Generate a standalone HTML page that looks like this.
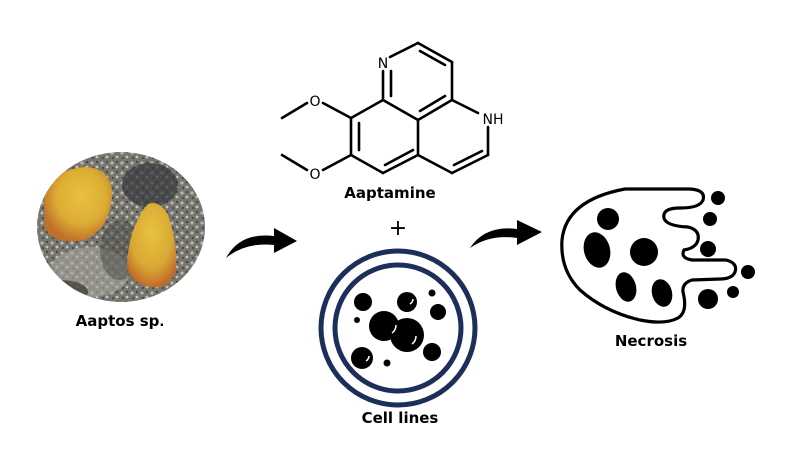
<!DOCTYPE html>
<html><head><meta charset="utf-8"><style>
html,body{margin:0;padding:0;background:#fff;width:792px;height:473px;overflow:hidden}
svg{display:block}
text{font-family:"DejaVu Sans","Liberation Sans",sans-serif;font-weight:bold;fill:#000}
text.n{font-weight:normal}
</style></head><body>
<svg width="792" height="473" viewBox="0 0 792 473" xmlns="http://www.w3.org/2000/svg">
<defs>
<clipPath id="cp"><ellipse cx="121" cy="227" rx="84" ry="75"/></clipPath>
<radialGradient id="sp1" cx="0.55" cy="0.4" r="0.6"><stop offset="0" stop-color="#e8c040"/><stop offset="0.6" stop-color="#dcae34"/><stop offset="1" stop-color="#c0702a"/></radialGradient>
<radialGradient id="sp2" cx="0.5" cy="0.35" r="0.65"><stop offset="0" stop-color="#e8c23e"/><stop offset="0.65" stop-color="#d8a834"/><stop offset="1" stop-color="#c26a2a"/></radialGradient>
<pattern id="spk" width="10" height="10" patternUnits="userSpaceOnUse">
<rect width="10" height="10" fill="#77766e"/>
<circle cx="2" cy="3" r="1.6" fill="#b8b8b0"/><circle cx="7" cy="7" r="1.4" fill="#c4c4bc"/><circle cx="7" cy="2" r="1" fill="#3a3a38"/><circle cx="3" cy="8" r="1" fill="#44403c"/>
</pattern>
</defs>
<g clip-path="url(#cp)">
<rect x="30" y="150" width="180" height="160" fill="url(#spk)"/>
<ellipse cx="90" cy="272" rx="40" ry="25" fill="#a8a79e" opacity="0.6"/>
<ellipse cx="150" cy="185" rx="28" ry="22" fill="#35363a" opacity="0.7"/>
<ellipse cx="60" cy="292" rx="28" ry="12" fill="#3a3634" opacity="0.7"/>
<ellipse cx="120" cy="250" rx="20" ry="30" fill="#4a4844" opacity="0.5"/>
<path d="M44,195 Q50,170 85,167 Q112,168 112,195 Q110,228 85,240 Q55,246 45,228 Z" fill="url(#sp1)"/>
<path d="M148,204 Q160,200 168,215 Q178,245 176,270 Q170,290 150,287 Q128,283 127,262 Q130,225 148,204 Z" fill="url(#sp2)"/>
</g>
<text x="120" y="326" font-size="15" text-anchor="middle">Aaptos sp<tspan class="n" font-size="13">.</tspan></text>
<path d="M226,258 Q240,232 274,236 L274,228 L297,241 L274,253 L274,245 Q245,242 226,258 Z" fill="#000"/>
<path d="M470,248 Q485,225 517,229 L517,220 L542,232 L517,245 L517,238 Q490,234 470,248 Z" fill="#000"/>
<g stroke="#000" stroke-width="2.6" fill="none" stroke-linecap="round">
<line x1="390" y1="57" x2="418" y2="43"/>
<line x1="418" y1="43" x2="452" y2="62"/><line x1="420" y1="51" x2="445" y2="65"/>
<line x1="452" y1="62" x2="452" y2="100"/>
<line x1="452" y1="100" x2="418" y2="120"/><line x1="445" y1="96" x2="420" y2="111"/>
<line x1="418" y1="120" x2="383" y2="100"/>
<line x1="383" y1="100" x2="383" y2="71"/><line x1="391" y1="96" x2="391" y2="71"/>
<line x1="418" y1="120" x2="418" y2="155"/>
<line x1="383" y1="100" x2="351" y2="118"/>
<line x1="351" y1="118" x2="351" y2="155"/><line x1="359" y1="123" x2="359" y2="150"/>
<line x1="351" y1="155" x2="383" y2="173"/>
<line x1="383" y1="173" x2="418" y2="155"/><line x1="385" y1="165" x2="413" y2="150"/>
<line x1="418" y1="155" x2="452" y2="173"/>
<line x1="452" y1="173" x2="488" y2="155"/><line x1="454" y1="165" x2="482" y2="151"/>
<line x1="488" y1="155" x2="488" y2="127"/>
<line x1="452" y1="100" x2="478" y2="113"/>
<line x1="351" y1="118" x2="323" y2="103"/>
<line x1="307" y1="103" x2="282" y2="118"/>
<line x1="351" y1="155" x2="323" y2="170"/>
<line x1="307" y1="170" x2="282" y2="155"/>
</g>
<g font-size="14">
<text class="n" x="383" y="68" text-anchor="middle">N</text>
<text class="n" x="493" y="124" text-anchor="middle">NH</text>
<text class="n" x="315" y="106" text-anchor="middle">O</text>
<text class="n" x="315" y="179" text-anchor="middle">O</text>
</g>
<text x="390" y="198" font-size="15" text-anchor="middle">Aaptamine</text>
<text class="n" x="398" y="235" font-size="22" text-anchor="middle">+</text>
<circle cx="398" cy="328" r="77" fill="none" stroke="#1c2e5a" stroke-width="5"/>
<circle cx="398" cy="328" r="63" fill="none" stroke="#1c2e5a" stroke-width="5"/>
<g fill="#000">
<circle cx="363" cy="302" r="9"/><circle cx="407" cy="302" r="10"/><circle cx="438" cy="312" r="8"/>
<circle cx="432" cy="293" r="3.5"/><circle cx="357" cy="320" r="3"/>
<circle cx="407" cy="335" r="17"/><circle cx="384" cy="326" r="15"/>
<circle cx="362" cy="358" r="11"/><circle cx="387" cy="363" r="3.5"/><circle cx="432" cy="352" r="9"/>
</g>
<g fill="none" stroke="#fff" stroke-width="1.5">
<path d="M392,333 Q396,330 396,325"/><path d="M412,344 Q416,341 416,336"/><path d="M410,304 Q413,302 413,299"/><path d="M366,361 Q369,359 369,356"/>
</g>
<text x="400" y="423" font-size="15" text-anchor="middle">Cell lines</text>
<path d="M625,189 L690,189 Q706,190 703,200 Q700,208 680,208 Q662,208 664,218 Q666,226 688,227 Q700,230 698,240 Q696,248 684,250 Q680,258 692,260 L726,260 Q738,263 735,272 Q732,279 720,279 L692,280 Q682,283 683,292 Q688,312 678,318 Q665,325 640,320 Q605,312 580,290 Q560,270 562,240 Q566,200 625,189 Z" fill="none" stroke="#000" stroke-width="3.2"/>
<g fill="#000">
<circle cx="608" cy="219" r="11"/>
<ellipse cx="597" cy="250" rx="13" ry="18" transform="rotate(-15 597 250)"/>
<circle cx="644" cy="252" r="14"/>
<ellipse cx="626" cy="287" rx="10" ry="15" transform="rotate(-15 626 287)"/>
<ellipse cx="662" cy="293" rx="10" ry="14" transform="rotate(-15 662 293)"/>
<circle cx="718" cy="198" r="7"/><circle cx="710" cy="219" r="7"/><circle cx="708" cy="249" r="8"/>
<circle cx="748" cy="272" r="7"/><circle cx="733" cy="292" r="6"/><circle cx="708" cy="299" r="10"/>
</g>
<text x="651" y="346" font-size="15" text-anchor="middle">Necrosis</text>
</svg>
</body></html>
